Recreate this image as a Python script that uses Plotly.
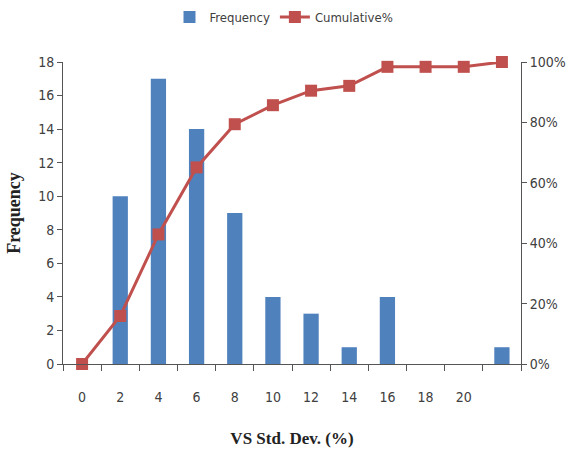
import plotly.graph_objects as go

categories = ["0", "2", "4", "6", "8", "10", "12", "14", "16", "18", "20", " "]
frequency = [0, 10, 17, 14, 9, 4, 3, 1, 4, 0, 0, 1]
cumulative_pct = [0, 15.9, 42.9, 65.1, 79.4, 85.7, 90.5, 92.1, 98.4, 98.4, 98.4, 100]
left_ticks = list(range(0, 19, 2))
right_ticks = [0, 20, 40, 60, 80, 100]

narrow = "Liberation Sans Narrow, DejaVu Sans Condensed, Arial Narrow, sans-serif"
serif = "Liberation Serif, Times New Roman, serif"

fig = go.Figure()
fig.add_trace(go.Bar(
    x=categories, y=frequency, name="Frequency",
    marker=dict(color="#4F81BD", line=dict(width=0)), width=0.4,
))
fig.add_trace(go.Scatter(
    x=categories, y=cumulative_pct, name="Cumulative%", yaxis="y2",
    mode="lines+markers", cliponaxis=False,
    line=dict(color="#C0504D", width=3),
    marker=dict(symbol="square", size=12, color="#C0504D"),
))

tickfont = dict(family=narrow, size=14, color="#404040")

fig.update_layout(
    width=568, height=459,
    margin=dict(l=63, r=47, t=62, b=95, autoexpand=False),
    paper_bgcolor="white", plot_bgcolor="white",
    font=dict(family=narrow, size=13, color="#404040"),
    showlegend=True,
    legend=dict(orientation="h", x=0.5, xanchor="center", y=1 - 17 / 459, yanchor="middle",
                xref="container", yref="container",
                font=dict(family=narrow, size=13, color="#404040"),
                traceorder="normal"),
    xaxis=dict(
        type="category", range=[-0.5, 11.5], tickson="boundaries",
        ticks="outside", ticklen=6, tickcolor="#555555", tickfont=tickfont,
        showline=True, linecolor="#555555", linewidth=1,
        showgrid=False, zeroline=False, automargin=False,
        ticklabelstandoff=20,
        title=dict(text="<b>VS Std. Dev. (%)</b>", font=dict(family=serif, size=17, color="#222222"), standoff=28),
    ),
    yaxis=dict(
        range=[0, 18], tickvals=left_ticks,
        ticks="outside", ticklen=5, tickcolor="#555555", tickfont=tickfont,
        showline=True, linecolor="#555555", linewidth=1,
        showgrid=False, zeroline=False, automargin=False,
        title=dict(text="<b>Frequency</b>", font=dict(family=serif, size=18, color="#222222"), standoff=12),
    ),
    yaxis2=dict(
        range=[0, 100], tickvals=right_ticks, ticktext=[f"{v}%" for v in right_ticks],
        overlaying="y", side="right",
        ticks="outside", ticklen=5, tickcolor="#555555", tickfont=tickfont,
        showline=True, linecolor="#555555", linewidth=1,
        showgrid=False, zeroline=False, automargin=False,
    ),
)
fig.write_html("out.html", config={"displayModeBar": False},
               post_script="document.body.style.margin='0';")
